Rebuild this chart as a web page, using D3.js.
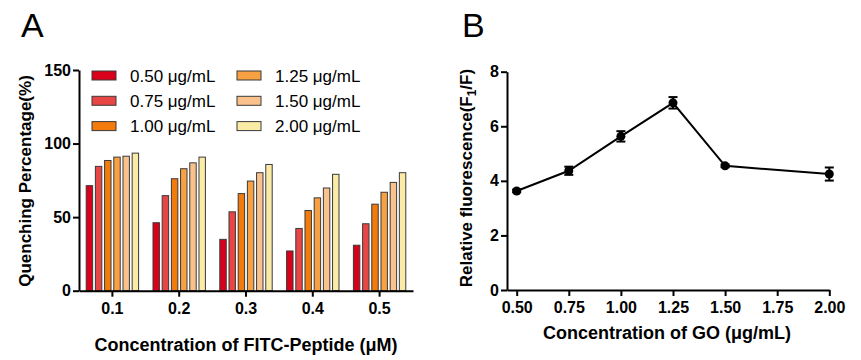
<!DOCTYPE html>
<html>
<head>
<meta charset="utf-8">
<script src="https://cdn.jsdelivr.net/npm/d3@7"></script>
<style>
  body { margin: 0; background: #fff; }
  svg { font-family: Arial, "Liberation Sans", sans-serif; }
</style>
</head>
<body>
<div id="chart"></div>
<script>
(function () {
    'use strict';

    // panel A data
    var peptides = ["0.1", "0.2", "0.3", "0.4", "0.5"],
        goLevels = ["0.50 μg/mL", "0.75 μg/mL", "1.00 μg/mL", "1.25 μg/mL", "1.50 μg/mL", "2.00 μg/mL"],
        goColors = ["#d9001b", "#e84545", "#f27b0c", "#f7a143", "#f9c18c", "#faeba6"],
        quench = [
            [71.4, 46.2, 34.9, 27.0, 30.9],
            [84.5, 64.6, 53.6, 42.3, 45.5],
            [88.5, 76.1, 66.0, 54.5, 58.8],
            [90.8, 82.9, 74.5, 63.1, 66.9],
            [91.4, 86.9, 80.2, 69.8, 73.6],
            [93.5, 90.8, 85.8, 79.1, 80.2]
        ],
        yTicksA = [0, 50, 100, 150];

    // panel B data
    var goConc = [0.5, 0.75, 1.0, 1.25, 1.5, 2.0],
        relFluo = [3.63, 4.37, 5.63, 6.86, 4.55, 4.25],
        relErr = [0.05, 0.15, 0.19, 0.21, 0.05, 0.24],
        xTicksB = [0.5, 0.75, 1.0, 1.25, 1.5, 1.75, 2.0],
        yTicksB = [0, 2, 4, 6, 8];

    var svg = d3.select("#chart").append("svg")
        .attr("width", 861)
        .attr("height", 360);

    function styleAxis(g) {
        g.selectAll("path, line").attr("stroke", "#000").attr("stroke-width", 2);
        g.selectAll("text")
            .attr("font-size", 16)
            .attr("font-weight", "bold")
            .attr("fill", "#000");
    }

    // ---------- panel A ----------
    svg.append("text").attr("x", 21).attr("y", 37)
        .attr("font-size", 34).text("A");

    var xA = d3.scaleBand().domain(peptides).range([79, 413]);
    var xInner = d3.scaleBand().domain(d3.range(goLevels.length))
        .range([0, 52.4]).paddingInner(0.3);
    var yA = d3.scaleLinear().domain([0, 150]).range([290.7, 70]);

    var gA = svg.append("g");
    goLevels.forEach(function (lvl, s) {
        gA.selectAll(null)
            .data(quench[s])
            .enter()
            .append("rect")
            .attr("x", function (d, i) {
                return xA(peptides[i]) + (xA.bandwidth() - 52.4) / 2 + xInner(s);
            })
            .attr("y", function (d) { return yA(d); })
            .attr("width", xInner.bandwidth())
            .attr("height", function (d) { return yA(0) - yA(d); })
            .attr("fill", goColors[s])
            .attr("stroke", "#3a3a3a")
            .attr("stroke-width", 1);
    });

    svg.append("g")
        .attr("transform", "translate(79,0)")
        .call(d3.axisLeft(yA).tickValues(yTicksA).tickSize(6).tickPadding(2).tickSizeOuter(0))
        .call(styleAxis);

    svg.append("g")
        .attr("transform", "translate(0," + yA(0) + ")")
        .call(d3.axisBottom(xA).tickSize(6).tickPadding(6).tickSizeOuter(0))
        .call(styleAxis);

    svg.append("text")
        .attr("transform", "translate(31,181) rotate(-90)")
        .attr("text-anchor", "middle")
        .attr("font-size", 17).attr("font-weight", "bold")
        .text("Quenching Percentage(%)");

    svg.append("text")
        .attr("x", 246).attr("y", 351)
        .attr("text-anchor", "middle")
        .attr("font-size", 18).attr("font-weight", "bold")
        .text("Concentration of FITC-Peptide (μM)");

    var legend = svg.append("g").selectAll("g")
        .data(goLevels)
        .enter()
        .append("g")
        .attr("transform", function (d, i) {
            return "translate(" + (i < 3 ? 92 : 237) + "," + (71 + (i % 3) * 25.3) + ")";
        });
    legend.append("rect")
        .attr("width", 24).attr("height", 9)
        .attr("fill", function (d, i) { return goColors[i]; })
        .attr("stroke", "#3a3a3a").attr("stroke-width", 1);
    legend.append("text")
        .attr("x", 38).attr("y", 10.5)
        .attr("font-size", 17)
        .text(function (d) { return d; });

    // ---------- panel B ----------
    svg.append("text").attr("x", 462).attr("y", 37)
        .attr("font-size", 34).text("B");

    var xB = d3.scaleLinear().domain([0.4535, 2.0]).range([507, 829.3]);
    var yB = d3.scaleLinear().domain([0, 8]).range([290, 71.7]);

    svg.append("g")
        .attr("transform", "translate(507,0)")
        .call(d3.axisLeft(yB).tickValues(yTicksB).tickSize(6).tickPadding(2).tickSizeOuter(0))
        .call(styleAxis);

    svg.append("g")
        .attr("transform", "translate(0," + yB(0) + ")")
        .call(d3.axisBottom(xB).tickValues(xTicksB).tickFormat(d3.format(".2f"))
            .tickSize(6).tickPadding(6).tickSizeOuter(0))
        .call(styleAxis);

    var pts = goConc.map(function (c, i) {
        return {x: c, y: relFluo[i], e: relErr[i]};
    });

    svg.append("path")
        .datum(pts)
        .attr("fill", "none")
        .attr("stroke", "#000")
        .attr("stroke-width", 2)
        .attr("d", d3.line()
            .x(function (d) { return xB(d.x); })
            .y(function (d) { return yB(d.y); }));

    var err = svg.append("g").selectAll("g")
        .data(pts)
        .enter()
        .append("g")
        .attr("stroke", "#000")
        .attr("stroke-width", 2);
    err.append("line")
        .attr("x1", function (d) { return xB(d.x); })
        .attr("x2", function (d) { return xB(d.x); })
        .attr("y1", function (d) { return yB(d.y - d.e); })
        .attr("y2", function (d) { return yB(d.y + d.e); });
    [-1, 1].forEach(function (sign) {
        err.append("line")
            .attr("x1", function (d) { return xB(d.x) - 4.5; })
            .attr("x2", function (d) { return xB(d.x) + 4.5; })
            .attr("y1", function (d) { return yB(d.y + sign * d.e); })
            .attr("y2", function (d) { return yB(d.y + sign * d.e); });
    });

    svg.append("g").selectAll("circle")
        .data(pts)
        .enter()
        .append("circle")
        .attr("cx", function (d) { return xB(d.x); })
        .attr("cy", function (d) { return yB(d.y); })
        .attr("r", 4.5)
        .attr("fill", "#000");

    svg.append("text")
        .attr("transform", "translate(472,178) rotate(-90)")
        .attr("text-anchor", "middle")
        .attr("font-size", 17).attr("font-weight", "bold")
        .text("Relative fluorescence(F")
        .append("tspan").attr("font-size", 12).attr("dy", 4).text("1")
        .select(function () { return this.parentNode; })
        .append("tspan").attr("dy", -4).text("/F)");

    svg.append("text")
        .attr("x", 667).attr("y", 339)
        .attr("text-anchor", "middle")
        .attr("font-size", 18).attr("font-weight", "bold")
        .text("Concentration of GO (μg/mL)");

}());
</script>
</body>
</html>
